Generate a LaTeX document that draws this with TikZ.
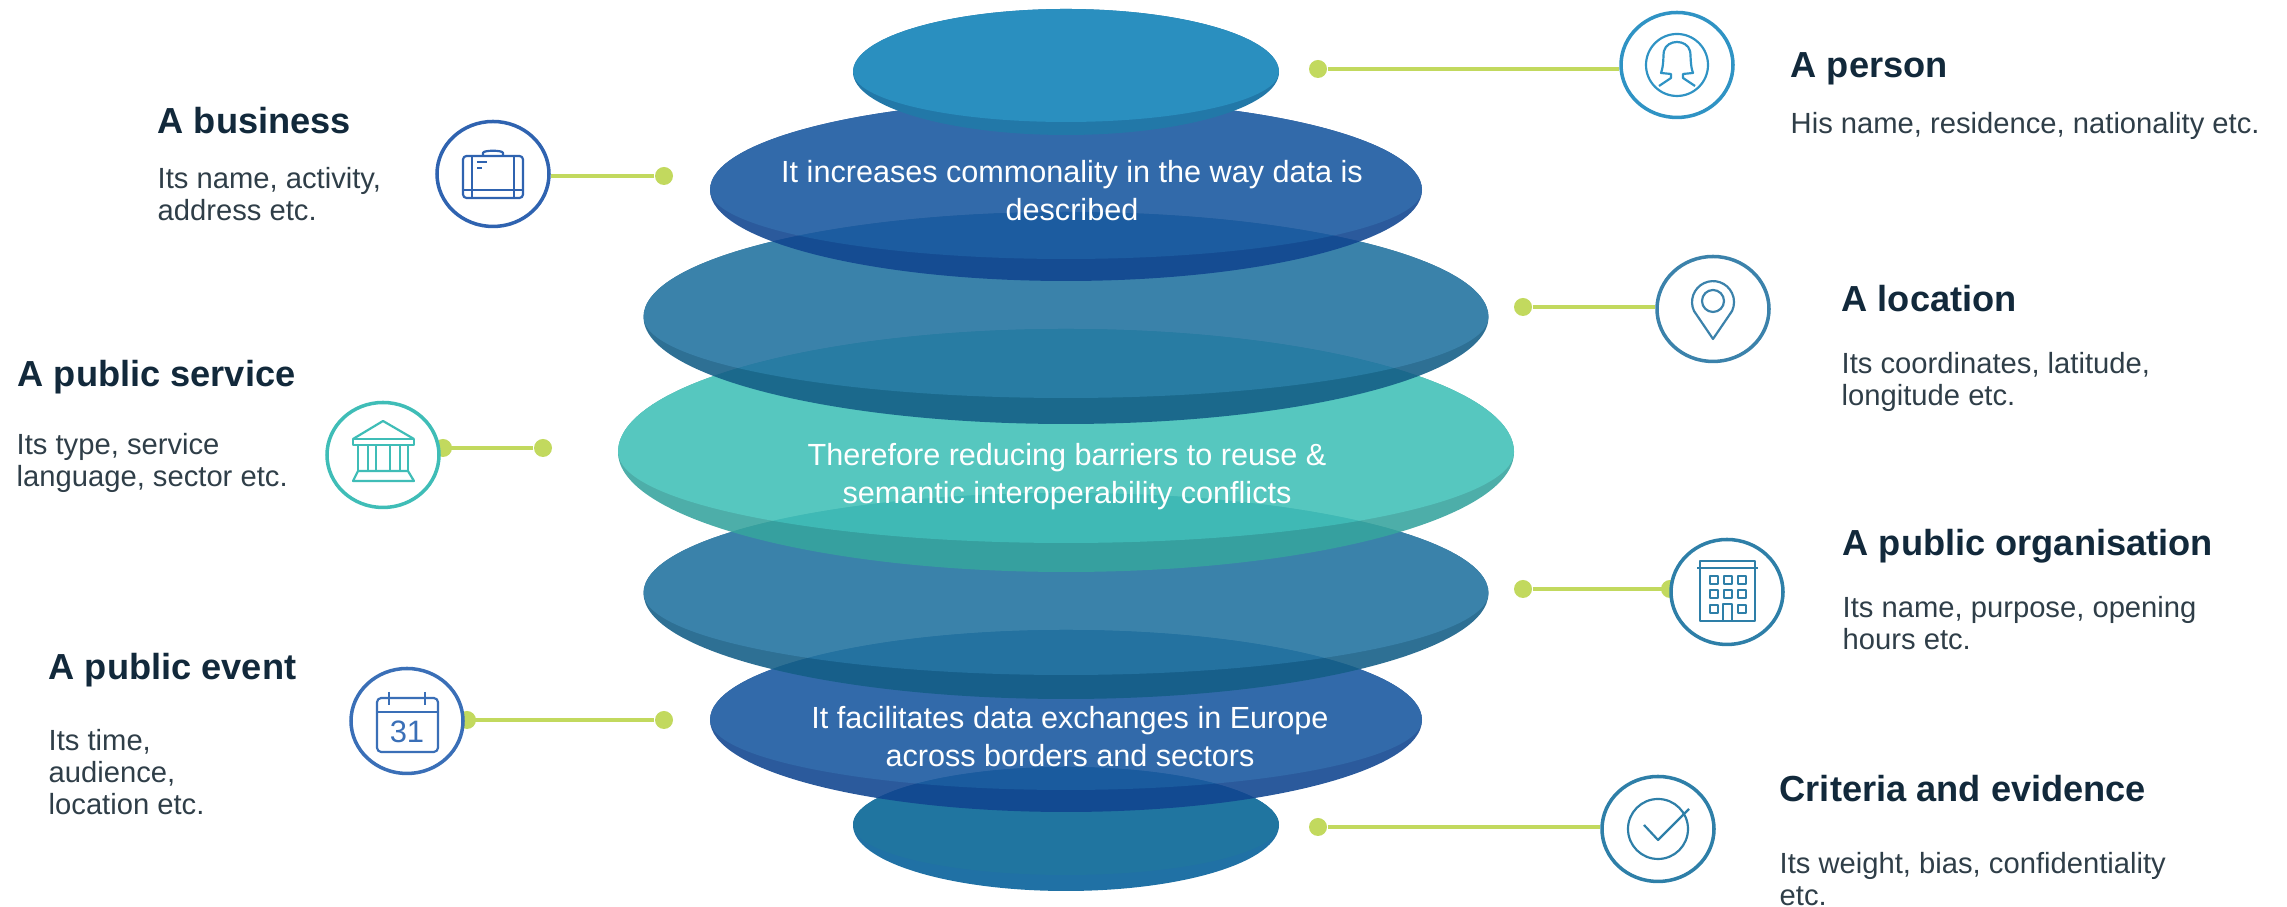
\documentclass[tikz,border=0pt]{standalone}
\usepackage{fontspec}
\usetikzlibrary{shapes.geometric}
\setmainfont{Liberation Sans}
\definecolor{topface}{HTML}{2A8FBF}
\definecolor{topband}{HTML}{2278A8}
\definecolor{blueface}{HTML}{19589F}
\definecolor{blueband}{HTML}{114690}
\definecolor{steelface}{HTML}{2273A0}
\definecolor{steelband}{HTML}{145E87}
\definecolor{tealface}{HTML}{41C0B7}
\definecolor{tealband}{HTML}{37A49E}
\definecolor{lowface}{HTML}{056494}
\definecolor{lowband}{HTML}{04609A}
\definecolor{leadgreen}{HTML}{C2D95E}
\definecolor{headink}{HTML}{12293B}
\definecolor{bodyink}{HTML}{2F3E48}
\definecolor{iconperson}{HTML}{2F93C4}
\definecolor{iconbusiness}{HTML}{2F63B0}
\definecolor{iconlocation}{HTML}{3B82AB}
\definecolor{iconservice}{HTML}{3FBDB7}
\definecolor{iconorg}{HTML}{2E7FA8}
\definecolor{iconevent}{HTML}{3A6FB7}
\newcommand{\disk}[8]{%
  \begin{scope}[transparency group, opacity=#1]
    \fill[#7] (1066-#3,#2) arc[start angle=180, end angle=0, x radius=#3, y radius=#4]
      arc[start angle=0, end angle=-180, x radius=#3, y radius=#6];
    \fill[#8] (1066-#3,#2) arc[start angle=180, end angle=0, x radius=#3, y radius=#4]
      arc[start angle=0, end angle=-180, x radius=#3, y radius=#5];
  \end{scope}}
\tikzset{
  head/.style={anchor=base west, inner sep=0pt, text=headink, font=\bfseries\fontsize{10.3}{12}\selectfont},
  body/.style={anchor=north west, inner sep=0pt, align=left, text=bodyink, font=\fontsize{8.3}{9.1}\selectfont},
  mid/.style={inner sep=0pt, align=center, text=white, font=\fontsize{8.7}{10.8}\selectfont},
  lead/.style={leadgreen, line width=1.1pt},
  dot/.style={circle, fill=leadgreen, inner sep=0pt, minimum size=18*0.01cm},
  icon/.style={ellipse, draw=#1, fill=white, line width=1pt, inner sep=0pt, minimum width=112*0.01cm, minimum height=105*0.01cm},
  glyph/.style={draw=#1, line width=0.62pt, line join=round}
}
\begin{document}
\begin{tikzpicture}[x=0.01cm, y=0.01cm]
  \useasboundingbox (0,0) rectangle (2287,907);

  \disk{0.89}{82}{213}{58}{50}{66}{lowband}{lowface}
  \disk{0.89}{187}{356}{90}{70}{92}{blueband}{blueface}
  \disk{0.89}{314}{422.5}{100}{82}{106}{steelband}{steelface}
  \disk{0.89}{455}{448}{123}{91}{120}{tealband}{tealface}
  \disk{0.89}{590}{422.5}{105}{81}{107}{steelband}{steelface}
  \disk{0.89}{717}{356}{90}{69}{91}{blueband}{blueface}
  \disk{1}{835}{213}{63}{50}{63}{topband}{topface}

  \node[mid] (midA) at (1072,716) {It increases commonality in the way data is\\described};
  \node[mid] (midB) at (1067,430) {Therefore reducing barriers to reuse \&\\semantic interoperability conflicts};
  \node[mid] (midC) at (1070,170) {It facilitates data exchanges in Europe\\across borders and sectors};

  \node[dot] (blobS) at (443,459) {};
  \node[dot] (blobO) at (1670,318) {};
  \node[dot] (blobE) at (467,187) {};

  \node[icon=iconperson] (P) at (1677,842) {};
  \node[icon=iconbusiness] (B) at (493,733) {};
  \node[icon=iconlocation] (L) at (1713,598) {};
  \node[icon=iconservice] (S) at (383,452) {};
  \node[icon=iconorg] (O) at (1727,315) {};
  \node[icon=iconevent] (E) at (407,186) {};
  \node[icon=iconorg] (C) at (1658,78) {};

  \node[dot] (dotP) at (1318,838) {};
  \node[dot] (dotB) at (664,731) {};
  \node[dot] (dotL) at (1523,600) {};
  \node[dot] (dotS) at (543,459) {};
  \node[dot] (dotO) at (1523,318) {};
  \node[dot] (dotE) at (664,187) {};
  \node[dot] (dotC) at (1318,80) {};

  \draw[lead] (dotP) -- (dotP -| P.west);
  \draw[lead] (dotB) -- (dotB -| B.east);
  \draw[lead] (dotL) -- (dotL -| L.west);
  \draw[lead] (dotS) -- (dotS -| S.east);
  \draw[lead] (dotO) -- (dotO -| O.west);
  \draw[lead] (dotE) -- (dotE -| E.east);
  \draw[lead] (dotC) -- (dotC -| C.west);

  % person
  \begin{scope}[shift={(P)}, glyph=iconperson]
    \draw (0,0) circle[radius=31];
    \draw (-18,-21) -- (-6,-13) -- (-6,-9) -- (-16,-8) .. controls (-13,0) and (-14,10) .. (-13,14)
      .. controls (-10,26) and (10,26) .. (13,14) .. controls (14,10) and (13,0) .. (16,-8)
      -- (6,-9) -- (6,-13) -- (18,-21);
  \end{scope}
  % briefcase
  \begin{scope}[shift={(B)}, glyph=iconbusiness]
    \draw[rounded corners=1pt] (-30,-24) rectangle (30,18);
    \draw (-10,18) -- (-10,21) .. controls (-10,24) and (10,24) .. (10,21) -- (10,18);
    \draw (-21,18) -- (-21,-24) (21,18) -- (21,-24) (-30,-16) -- (30,-16);
    \draw (-16,12) -- (-6,12) (-16,6) -- (-11,6);
  \end{scope}
  % pin
  \begin{scope}[shift={(L)}, glyph=iconlocation]
    \draw (0,-30) -- (-19,-2) arc[start angle=205, end angle=-25, radius=21] -- cycle;
    \draw (0,8) circle[radius=11];
  \end{scope}
  % bank
  \begin{scope}[shift={(S)}, glyph=iconservice]
    \draw (-30,16) -- (0,34) -- (31,16);
    \draw (-30,10) rectangle (31,16);
    \foreach \xa in {-25,-15,-7,7,17,25}
      \draw (\xa,10) -- (\xa,-16);
    \draw (-25,-16) -- (25,-16) -- (31,-26) -- (-30,-26) -- cycle;
  \end{scope}
  % building
  \begin{scope}[shift={(O)}, glyph=iconorg]
    \draw (-27,31) rectangle (28,-29);
    \draw (-30,24) -- (31,24);
    \foreach \xa/\ya in {-13/12,1/12,15/12,-13/-2,1/-2,15/-2,-13/-17,15/-17}
      \draw[line width=0.7pt] (\xa-4,\ya-4) rectangle (\xa+4,\ya+4);
    \draw (-4,-29) -- (-4,-12) -- (5,-12) -- (5,-29);
  \end{scope}
  % calendar
  \begin{scope}[shift={(E)}, glyph=iconevent]
    \draw[rounded corners=1.2pt] (-30,-31) rectangle (31,23);
    \draw (-30,9) -- (31,9);
    \draw (-18,29) -- (-18,16) (18,29) -- (18,16);
    \node[draw=none, inner sep=0pt, text=iconevent, font=\fontsize{8.8}{9}\selectfont] (day) at (0,-11) {31};
  \end{scope}
  % tick
  \begin{scope}[shift={(C)}, glyph=iconorg]
    \draw (0,0) circle[radius=30];
    \draw (-14,4) -- (0,-11) -- (31,20);
  \end{scope}

  \node[head] (tP) at (1790,829) {A person};
  \node[body] (bP) at (1790,795.5) {His name, residence, nationality etc.};
  \node[head] (tB) at (157,773) {A business};
  \node[body] (bB) at (157,740.5) {Its name, activity,\\address etc.};
  \node[head] (tL) at (1841,595) {A location};
  \node[body] (bL) at (1841,555.5) {Its coordinates, latitude,\\longitude etc.};
  \node[head] (tS) at (17,520) {A public service};
  \node[body] (bS) at (16,474.5) {Its type, service\\language, sector etc.};
  \node[head] (tO) at (1842,351) {A public organisation};
  \node[body] (bO) at (1842,311) {Its name, purpose, opening\\hours etc.};
  \node[head] (tE) at (48,227) {A public event};
  \node[body] (bE) at (48,178) {Its time,\\audience,\\location etc.};
  \node[head] (tC) at (1779,105) {Criteria and evidence};
  \node[body] (bC) at (1779,55.5) {Its weight, bias, confidentiality\\etc.};
\end{tikzpicture}
\end{document}
